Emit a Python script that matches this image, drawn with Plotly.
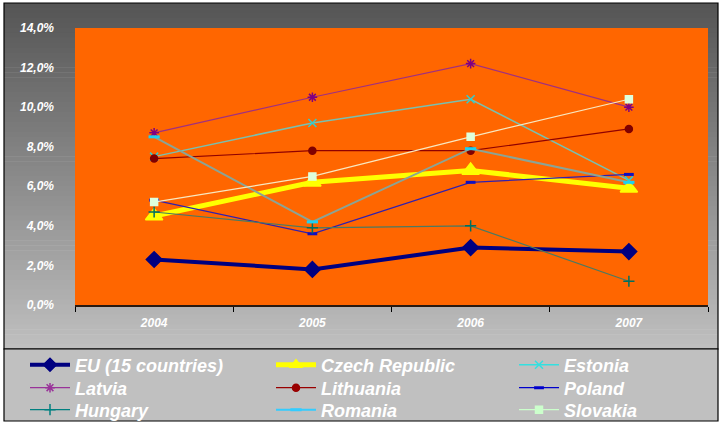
import plotly.graph_objects as go

# data (percent)
years = ["2004", "2005", "2006", "2007"]
countries = ["EU (15 countries)", "Czech Republic", "Estonia", "Latvia", "Lithuania",
             "Poland", "Hungary", "Romania", "Slovakia"]
eu15 = [2.3, 1.8, 2.9, 2.7]
czech = [4.5, 6.2, 6.8, 5.9]
estonia = [7.5, 9.2, 10.4, 6.3]
latvia = [8.7, 10.5, 12.2, 10.0]
lithuania = [7.4, 7.8, 7.8, 8.9]
poland = [5.3, 3.6, 6.2, 6.6]
hungary = [4.7, 3.9, 4.0, 1.2]
romania = [8.5, 4.2, 7.9, 6.2]
slovakia = [5.2, 6.5, 8.5, 10.4]
yticks = [0, 2, 4, 6, 8, 10, 12, 14]
ylabels = [f"{v:.1f}%".replace(".", ",") for v in yticks]

W, H = 723, 425
L, R, T, B = 75, 708, 28, 305   # plot area in pixels


def px(x):
    return (x - L) / (R - L)


def py(y):
    return (B - y) / (B - T)


# (values, chart line colour, legend colour, width, marker symbol, marker size, marker colour)
styles = [
    (eu15, "#000080", "#000080", 4, "diamond", 12, "#000080"),
    (czech, "#ffff00", "#ffff00", 5, "triangle-up", 15, "#ffff00"),
    (estonia, "#78c0b0", "#33e0e0", 1.5, "x-thin-open", 8, "#33cccc"),
    (latvia, "#a03080", "#993399", 1.2, "asterisk-open", 8, "#800080"),
    (lithuania, "#900000", "#990000", 1.2, "circle", 7, "#800000"),
    (poland, "#3020b0", "#0000cc", 1.2, "line-ew-open", 7, "#1010c0"),
    (hungary, "#4a7a62", "#008080", 1.2, "cross-thin-open", 8, "#007060"),
    (romania, "#8aa496", "#33ccff", 2, "line-ew-open", 8, "#20d0f0"),
    (slovakia, "#f8e8c0", "#ccffcc", 1.2, "square", 7, "#ddffdd"),
]

fig = go.Figure()
for name, (vals, lc, legc, lw, sym, ms, mc) in zip(countries, styles):
    mline = dict(color=mc, width=3 if sym.startswith("line") else 1.5)
    fig.add_trace(go.Scatter(x=years, y=vals, mode="lines+markers", showlegend=False,
                             line=dict(color=lc, width=lw),
                             marker=dict(symbol=sym, size=ms, color=mc, line=mline)))

# one small legend per entry so the 3x3 grid sits where the reference has it
font_leg = dict(family="Liberation Sans", size=18, color="white", weight="bold", style="italic")
col_x = [25, 271, 514]
row_y = [365, 388, 410]
legends = {}
for i, (name, (vals, lc, legc, lw, sym, ms, mc)) in enumerate(zip(countries, styles)):
    key = "legend" if i == 0 else f"legend{i + 1}"
    mline = dict(color=legc, width=3 if sym.startswith("line") else 1.5)
    fig.add_trace(go.Scatter(x=[None], y=[None], mode="lines+markers", name=name, legend=key,
                             line=dict(color=legc, width=lw),
                             marker=dict(symbol=sym, size=min(ms, 10), color=legc, line=mline)))
    legends[key] = dict(xref="container", yref="container", xanchor="left", yanchor="middle",
                        x=col_x[i % 3] / W, y=(H - row_y[i // 3]) / H,
                        bgcolor="rgba(0,0,0,0)", borderwidth=0, font=font_leg, itemwidth=40)

# background: grey gradient frame, orange plot area, legend box
shapes = []
nb = 70
top, bot = 3, 349
c0, c1 = 0x55, 0xc0
for i in range(nb):
    y0 = top + (bot - top) * i / nb
    y1 = top + (bot - top) * (i + 1) / nb + 0.6
    c = int(c0 + (c1 - c0) * (i + 0.5) / nb)
    shapes.append(dict(type="rect", xref="paper", yref="paper", layer="below",
                       x0=px(4), x1=px(718), y0=py(y1), y1=py(y0),
                       fillcolor=f"rgb({c},{c},{c})", line=dict(width=0)))
shapes.append(dict(type="rect", xref="paper", yref="paper", layer="below",
                   x0=0, x1=1, y0=0, y1=1, fillcolor="#ff6600", line=dict(width=0)))
shapes.append(dict(type="rect", xref="paper", yref="paper", layer="below",
                   x0=px(4), x1=px(718), y0=py(349), y1=py(3),
                   fillcolor="rgba(0,0,0,0)", line=dict(color="black", width=1.2)))
shapes.append(dict(type="rect", xref="paper", yref="paper", layer="below",
                   x0=px(4), x1=px(718), y0=py(421), y1=py(349),
                   fillcolor="#c0c0c0", line=dict(color="black", width=1.2)))

font_lbl = dict(family="Liberation Sans", size=12, color="white", weight="bold", style="italic")

fig.update_layout(
    width=W, height=H,
    margin=dict(l=L, r=W - R, t=T, b=H - B, autoexpand=False),
    paper_bgcolor="white", plot_bgcolor="rgba(0,0,0,0)",
    shapes=shapes,
    xaxis=dict(type="category", range=[-0.5, 3.5], showgrid=False, zeroline=False,
               showline=True, linecolor="#2a1a10", linewidth=2, ticks="outside",
               tickson="boundaries", ticklen=5, tickcolor="black", tickfont=font_lbl,
               ticklabelstandoff=6, automargin=False),
    yaxis=dict(range=[0, 14], tickvals=yticks, ticktext=ylabels,
               showgrid=False, zeroline=False, showline=False, ticks="",
               tickfont=font_lbl, ticklabelstandoff=20, automargin=False),
    **legends,
)

fig.write_html("out.html", config={"displayModeBar": False},
               post_script="document.body.style.margin='0';")
